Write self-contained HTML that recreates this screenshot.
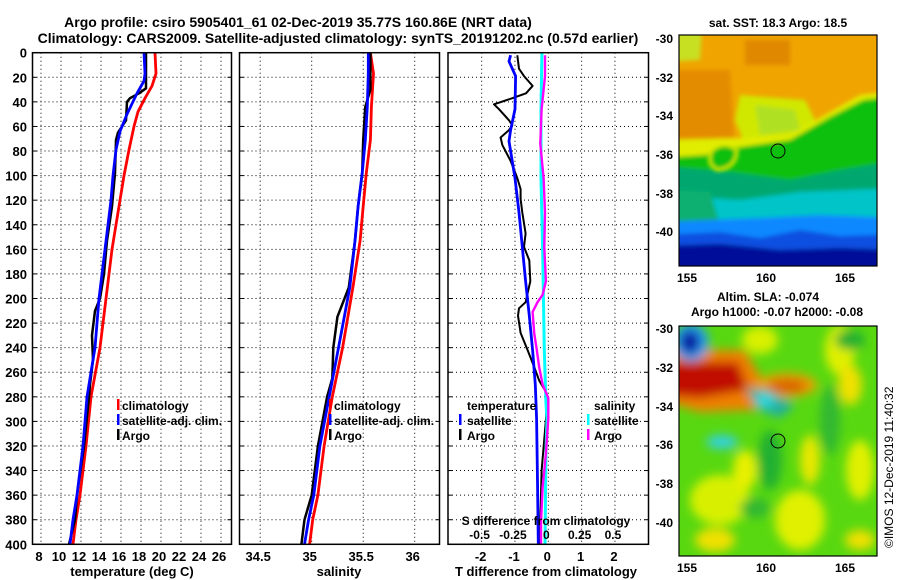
<!DOCTYPE html>
<html><head><meta charset="utf-8">
<style>
body{margin:0;background:#fff;}
svg{display:block;font-family:"Liberation Sans",sans-serif;font-weight:bold;}
</style></head>
<body>
<svg id="chart" width="900" height="580" viewBox="0 0 900 580" xmlns="http://www.w3.org/2000/svg">
<defs>
<filter id="blur2" x="-20%" y="-20%" width="140%" height="140%"><feGaussianBlur stdDeviation="2"/></filter>
<filter id="blur5" x="-20%" y="-20%" width="140%" height="140%"><feGaussianBlur stdDeviation="5"/></filter>
<clipPath id="clipTop"><rect x="679" y="35" width="198" height="231"/></clipPath>
<clipPath id="clipBot"><rect x="679" y="326" width="198" height="230"/></clipPath>
<clipPath id="c1"><rect x="32" y="52" width="200" height="493"/></clipPath>
<clipPath id="c2"><rect x="239" y="52" width="201" height="493"/></clipPath>
<clipPath id="c3"><rect x="448" y="52" width="201" height="493"/></clipPath>
</defs>
<text x="298" y="27" font-size="14" text-anchor="middle">Argo profile: csiro 5905401_61 02-Dec-2019 35.77S 160.86E (NRT data)</text>
<text x="338" y="43" font-size="14" text-anchor="middle">Climatology: CARS2009. Satellite-adjusted climatology: synTS_20191202.nc (0.57d earlier)</text>
<g id="grids"></g>
<g id="series"></g>
<g id="axes"></g>

<!-- legends -->
<g font-size="12">
<rect x="117" y="399" width="2.5" height="11" fill="#f00"/><text x="122" y="410">climatology</text>
<rect x="117" y="414" width="2.5" height="11" fill="#00f"/><text x="122" y="425">satellite-adj. clim.</text>
<rect x="117" y="429" width="2.5" height="11" fill="#000"/><text x="122" y="440">Argo</text>
</g>
<g font-size="12">
<rect x="329" y="399" width="2.5" height="11" fill="#f00"/><text x="334" y="410">climatology</text>
<rect x="329" y="414" width="2.5" height="11" fill="#00f"/><text x="334" y="425">satellite-adj. clim.</text>
<rect x="329" y="429" width="2.5" height="11" fill="#000"/><text x="334" y="440">Argo</text>
</g>
<g font-size="12">
<text x="467" y="410">temperature</text>
<rect x="459" y="414" width="2.5" height="11" fill="#00f"/><text x="467" y="425">satellite</text>
<rect x="459" y="429" width="2.5" height="11" fill="#000"/><text x="467" y="440">Argo</text>
<text x="594" y="410">salinity</text>
<rect x="587" y="414" width="2.5" height="11" fill="#0ff"/><text x="594" y="425">satellite</text>
<rect x="587" y="429" width="2.5" height="11" fill="#f0f"/><text x="594" y="440">Argo</text>
</g>

<!-- SST map -->
<text x="778" y="27" font-size="12" text-anchor="middle">sat. SST: 18.3 Argo: 18.5</text>
<g clip-path="url(#clipTop)">
<rect x="679" y="35" width="198" height="231" fill="#f0a400"/>
<g filter="url(#blur2)">
<path d="M660,70 L730,70 L735,150 L660,155Z" fill="#e48c00"/>
<path d="M745,40 L790,40 L790,65 L745,65Z" fill="#e08800"/>
<path d="M660,30 L702,30 L700,60 L660,62Z" fill="#c8e020"/>
<path d="M740,95 L805,100 L815,120 L800,140 L745,145 L735,120Z" fill="#d0e800"/>
<path d="M755,105 L795,110 L800,130 L760,135Z" fill="#b0e020"/>
<path d="M660,140 L740,138 L790,135 L830,112 L860,95 L900,90 L900,150 L660,175Z" fill="#e0ec00"/>
<path d="M660,158 L705,155 L740,147 L790,140 L830,117 L863,100 L900,95 L900,280 L660,280Z" fill="#10c010"/>
<path d="M660,166 L730,172 L790,180 L840,170 L900,160 L900,280 L660,280Z" fill="#00a870"/>
<path d="M660,195 L740,200 L800,192 L900,188 L900,280 L660,280Z" fill="#00c4c8"/>
<path d="M660,190 L710,192 L720,225 L660,228Z" fill="#10b070"/>
<path d="M660,222 L760,218 L820,215 L900,218 L900,280 L660,280Z" fill="#1088ff"/>
<path d="M660,235 L720,232 L760,238 L800,230 L840,236 L900,234 L900,280 L660,280Z" fill="#1050e0"/>
<path d="M660,246 L720,244 L780,250 L840,248 L900,250 L900,280 L660,280Z" fill="#000c98"/>
</g>
<path d="M712,150 Q725,140 737,150 Q737,168 718,170 Q705,165 712,150Z" fill="#10c010" stroke="#e0ec00" stroke-width="3" filter="url(#blur2)"/>
</g>
<rect x="679" y="35" width="198" height="231" fill="none" stroke="#000" stroke-width="1.2"/>
<circle cx="778" cy="151" r="7" fill="none" stroke="#000" stroke-width="1"/>
<g font-size="12" text-anchor="end">
<text x="673" y="43">-30</text><text x="673" y="82">-32</text><text x="673" y="120">-34</text><text x="673" y="159">-36</text><text x="673" y="198">-38</text><text x="673" y="236">-40</text>
</g>
<g font-size="12" text-anchor="middle">
<text x="687" y="282">155</text><text x="766" y="282">160</text><text x="845" y="282">165</text>
</g>

<!-- SLA map -->
<text x="768" y="301" font-size="12" text-anchor="middle">Altim. SLA: -0.074</text>
<text x="777" y="316" font-size="12" text-anchor="middle">Argo h1000: -0.07 h2000: -0.08</text>
<g clip-path="url(#clipBot)">
<rect x="679" y="326" width="198" height="230" fill="#58d810"/>
<g filter="url(#blur5)">
<ellipse cx="760" cy="340" rx="18" ry="14" fill="#d8f000"/>
<ellipse cx="840" cy="350" rx="15" ry="25" fill="#e0f000"/>
<ellipse cx="850" cy="385" rx="12" ry="20" fill="#f0e000"/>
<ellipse cx="720" cy="500" rx="30" ry="25" fill="#d8f000"/>
<ellipse cx="800" cy="520" rx="25" ry="30" fill="#e0f000"/>
<ellipse cx="745" cy="470" rx="12" ry="20" fill="#e8f000"/>
<ellipse cx="810" cy="460" rx="10" ry="25" fill="#e8e800"/>
<ellipse cx="860" cy="470" rx="14" ry="30" fill="#e0f000"/>
<ellipse cx="715" cy="540" rx="20" ry="12" fill="#f0e000"/>
<ellipse cx="860" cy="540" rx="15" ry="10" fill="#f0e000"/>
<ellipse cx="850" cy="340" rx="15" ry="10" fill="#20b030"/>
<ellipse cx="770" cy="460" rx="12" ry="30" fill="#20b030"/>
<ellipse cx="830" cy="420" rx="10" ry="35" fill="#30b830"/>
<ellipse cx="755" cy="508" rx="15" ry="10" fill="#30b830"/>
<path d="M660,350 L745,350 L765,385 L755,410 L700,412 L660,400Z" fill="#f08000"/>
<path d="M660,362 L738,362 L748,390 L700,398 L660,395Z" fill="#c01000"/>
<ellipse cx="787" cy="385" rx="30" ry="12" fill="#f0a000"/>
<ellipse cx="787" cy="386" rx="20" ry="7" fill="#d86000"/>
<path d="M746,388 L768,390 L795,405 L780,418 L758,410Z" fill="#20b0a0"/>
<ellipse cx="765" cy="400" rx="9" ry="7" fill="#30d8e0"/>
<ellipse cx="722" cy="442" rx="16" ry="7" fill="#30d0e0"/>
<ellipse cx="691" cy="342" rx="18" ry="19" fill="#20a0f0"/>
<ellipse cx="690" cy="342" rx="10" ry="12" fill="#0818a0"/>
</g>
</g>
<rect x="679" y="326" width="198" height="230" fill="none" stroke="#000" stroke-width="1.2"/>
<circle cx="778" cy="441" r="7" fill="none" stroke="#000" stroke-width="1"/>
<g font-size="12" text-anchor="end">
<text x="673" y="333">-30</text><text x="673" y="372">-32</text><text x="673" y="411">-34</text><text x="673" y="449">-36</text><text x="673" y="488">-38</text><text x="673" y="527">-40</text>
</g>
<g font-size="12" text-anchor="middle">
<text x="687" y="572">155</text><text x="766" y="572">160</text><text x="845" y="572">165</text>
</g>
<text transform="translate(893,548) rotate(-90)" font-size="12" font-weight="normal">©IMOS 12-Dec-2019 11:40:32</text>
</svg>
<script>
// ---- data ----
const depthTicks = [0,20,40,60,80,100,120,140,160,180,200,220,240,260,280,300,320,340,360,380,400];
const tempTicks = [8,10,12,14,16,18,20,22,24,26];
const salTicks = [34.5,35,35.5,36];
const salTickLabels = ["34.5","35","35.5","36"];
const dTTicks = [-2,-1,0,1,2];
const dSTicks = [-0.5,-0.25,0,0.25,0.5];
const dSTickLabels = ["-0.5","-0.25","0","0.25","0.5"];

const tClimDepth = [0,17,27,37,48,60,79,100,120,140,160,180,200,240,280,320,360,380,400];
const tClim = [19.4,19.5,19.1,18.4,17.7,17.3,16.8,16.3,15.9,15.5,15.1,14.8,14.5,13.9,13.0,12.5,11.9,11.5,11.2];
const tSatDepth = [0,17,23,33,50,64,79,100,120,140,160,180,200,240,280,320,360,380,400];
const tSat = [18.3,18.4,18.3,17.6,16.6,15.9,15.5,15.2,15.0,14.7,14.4,14.1,13.8,13.4,12.6,12.2,11.6,11.2,10.9];
const tArgoDepth = [0,29,33,37,40,55,65,71,98,125,153,180,200,210,230,250,270,280,320,360,380,400];
const tArgo = [18.5,18.5,17.8,16.9,16.6,16.5,15.7,15.5,15.4,15.1,14.6,14.3,13.9,13.4,13.1,13.2,12.9,12.8,12.3,11.6,11.4,10.8];

const sClimDepth = [0,17,44,71,98,125,153,191,240,280,320,360,380,400];
const sClim = [35.57,35.60,35.58,35.57,35.53,35.50,35.47,35.40,35.30,35.20,35.12,35.06,35.01,34.98];
const sSatDepth = [0,17,44,71,98,125,153,191,240,280,320,360,380,400];
const sSat = [35.55,35.55,35.54,35.52,35.49,35.45,35.42,35.37,35.26,35.17,35.08,35.02,34.97,34.93];
const sArgoDepth = [0,30,44,71,98,125,153,191,215,240,265,280,320,360,380,400];
const sArgo = [35.57,35.57,35.52,35.50,35.49,35.45,35.42,35.36,35.25,35.21,35.20,35.15,35.06,35.00,34.93,34.90];

const dTSatDepth = [2,7,19,46,63,72,80,102,130,158,186,214,242,270,298,354,400];
const dTSat = [-1.13,-1.18,-0.98,-1.0,-1.13,-1.18,-1.13,-1.0,-0.88,-0.78,-0.68,-0.57,-0.47,-0.39,-0.35,-0.32,-0.3];
const dTArgoDepth = [2,13,19,27,33,37,42,46,55,59,63,69,75,88,102,111,119,130,147,158,169,186,203,208,214,228,242,256,267,276,281,298,340,382,400];
const dTArgo = [-0.93,-0.88,-0.73,-0.47,-0.67,-1.08,-1.63,-1.48,-1.18,-1.08,-1.18,-1.43,-1.38,-1.13,-0.93,-0.83,-0.83,-0.78,-0.68,-0.73,-0.57,-0.54,-0.68,-0.88,-0.91,-0.83,-0.62,-0.42,-0.27,-0.07,-0.04,-0.07,-0.2,-0.24,-0.24];
const dSSatDepth = [0,46,74,102,158,242,284,298,326,400];
const dSSat = [-0.048,-0.055,-0.055,-0.055,-0.043,-0.030,-0.018,-0.010,-0.018,-0.025];
const dSArgoDepth = [2,19,46,74,102,130,158,186,197,203,211,228,242,256,270,281,298,326,354,382,400];
const dSArgo = [-0.025,-0.025,-0.050,-0.060,-0.035,-0.025,-0.030,-0.018,-0.043,-0.081,-0.118,-0.106,-0.086,-0.068,-0.043,0,0,-0.018,-0.043,-0.055,-0.055];

// ---- axes ----
const NS = "http://www.w3.org/2000/svg";
const yOf = p => 52.7 + p * 1.229;
const xT = t => 41 + (t - 8) * 10;
const xS = s => 311.7 + (s - 35) * 103;
const xDT = d => 548.3 + d * 33.33;
const xDS = d => 548.3 + d * 133.33;
const panels = [{x0:32.5,x1:231.5},{x0:239.5,x1:439.5},{x0:448,x1:648.5}];

function mk(tag, attrs, parent){
  const e = document.createElementNS(NS, tag);
  for (const k in attrs) e.setAttribute(k, attrs[k]);
  parent.appendChild(e);
  return e;
}
const grids = document.getElementById('grids');
const axes = document.getElementById('axes');
const series = document.getElementById('series');

panels.forEach((pn, i) => {
  depthTicks.forEach(p => {
    if (p === 0 || p === 400) return;
    const l = mk('line', {x1:pn.x0, x2:pn.x1, y1:yOf(p), y2:yOf(p), stroke:'#000', 'stroke-width':1, 'stroke-dasharray':'1 3'}, grids);
    
    
  });
});
function vgrid(x, name){
  const l = mk('line', {x1:x, x2:x, y1:yOf(0), y2:yOf(400), stroke:'#000', 'stroke-width':1, 'stroke-dasharray':'1 3'}, grids);
  
  
}
tempTicks.forEach(t => vgrid(xT(t), 'temperature-gridline'));
salTicks.forEach(s => vgrid(xS(s), 'salinity-gridline'));
dTTicks.forEach(d => vgrid(xDT(d), 'difference-gridline'));

panels.forEach((pn, i) => {
  const r = mk('rect', {x:pn.x0, y:yOf(0), width:pn.x1-pn.x0, height:yOf(400)-yOf(0), fill:'none', stroke:'#000', 'stroke-width':1.5}, axes);
  
  
  depthTicks.forEach(p => {
    mk('line', {x1:pn.x0, x2:pn.x0+4, y1:yOf(p), y2:yOf(p), stroke:'#000', 'stroke-width':1}, axes);
    mk('line', {x1:pn.x1-4, x2:pn.x1, y1:yOf(p), y2:yOf(p), stroke:'#000', 'stroke-width':1}, axes);
  });
});
depthTicks.forEach(p => {
  const t = mk('text', {x:27, y:yOf(p)+5, 'font-size':13, 'text-anchor':'end'}, axes);
  
  
  t.textContent = p;
});
tempTicks.forEach(v => {
  const t = mk('text', {x:xT(v)-2, y:561, 'font-size':13, 'text-anchor':'middle'}, axes);
  
  
  t.textContent = v;
});
salTicks.forEach((v, i) => {
  const t = mk('text', {x:xS(v)-2, y:561, 'font-size':13, 'text-anchor':'middle'}, axes);
  
  
  t.textContent = salTickLabels[i];
});
dTTicks.forEach(v => {
  const t = mk('text', {x:xDT(v)-1, y:561, 'font-size':13, 'text-anchor':'middle'}, axes);
  
  
  t.textContent = v;
});
dSTicks.forEach((v, i) => {
  const t = mk('text', {x:xDS(v)-2, y:539, 'font-size':12, 'text-anchor':'middle'}, axes);
  
  
  t.textContent = dSTickLabels[i];
});
[['temperature (deg C)',132,'temperature-axis-title'],['salinity',339,'salinity-axis-title'],['T difference from climatology',546,'temp-difference-axis-title']].forEach(a => {
  const t = mk('text', {x:a[1], y:576, 'font-size':13, 'text-anchor':'middle'}, axes);
  
  
  t.textContent = a[0];
});
{
  const t = mk('text', {x:546, y:525, 'font-size':12, 'text-anchor':'middle'}, axes);
  
  
  t.textContent = 'S difference from climatology';
}

function line(vals, depths, xf, color, w, clip, name){
  const pts = vals.map((v, i) => xf(v).toFixed(1) + ',' + yOf(depths[i]).toFixed(1)).join(' ');
  const pl = mk('polyline', {points:pts, fill:'none', stroke:color, 'stroke-width':w, 'stroke-linejoin':'round', 'clip-path':'url(#'+clip+')'}, series);
  
  
}
line(tClim, tClimDepth, xT, '#f00', 2.8, 'c1', 'temperature-climatology-line');
line(tArgo, tArgoDepth, xT, '#000', 2.5, 'c1', 'temperature-argo-line');
line(tSat, tSatDepth, xT, '#00f', 2.8, 'c1', 'temperature-satellite-line');
line(sClim, sClimDepth, xS, '#f00', 2.8, 'c2', 'salinity-climatology-line');
line(sArgo, sArgoDepth, xS, '#000', 2.5, 'c2', 'salinity-argo-line');
line(sSat, sSatDepth, xS, '#00f', 2.8, 'c2', 'salinity-satellite-line');
line(dTArgo, dTArgoDepth, xDT, '#000', 2, 'c3', 'temp-difference-argo-line');
line(dTSat, dTSatDepth, xDT, '#00f', 2.8, 'c3', 'temp-difference-satellite-line');
line(dSSat, dSSatDepth, xDS, '#0ff', 3, 'c3', 'sal-difference-satellite-line');
line(dSArgo, dSArgoDepth, xDS, '#f0f', 2.4, 'c3', 'sal-difference-argo-line');
</script>
</body></html>
